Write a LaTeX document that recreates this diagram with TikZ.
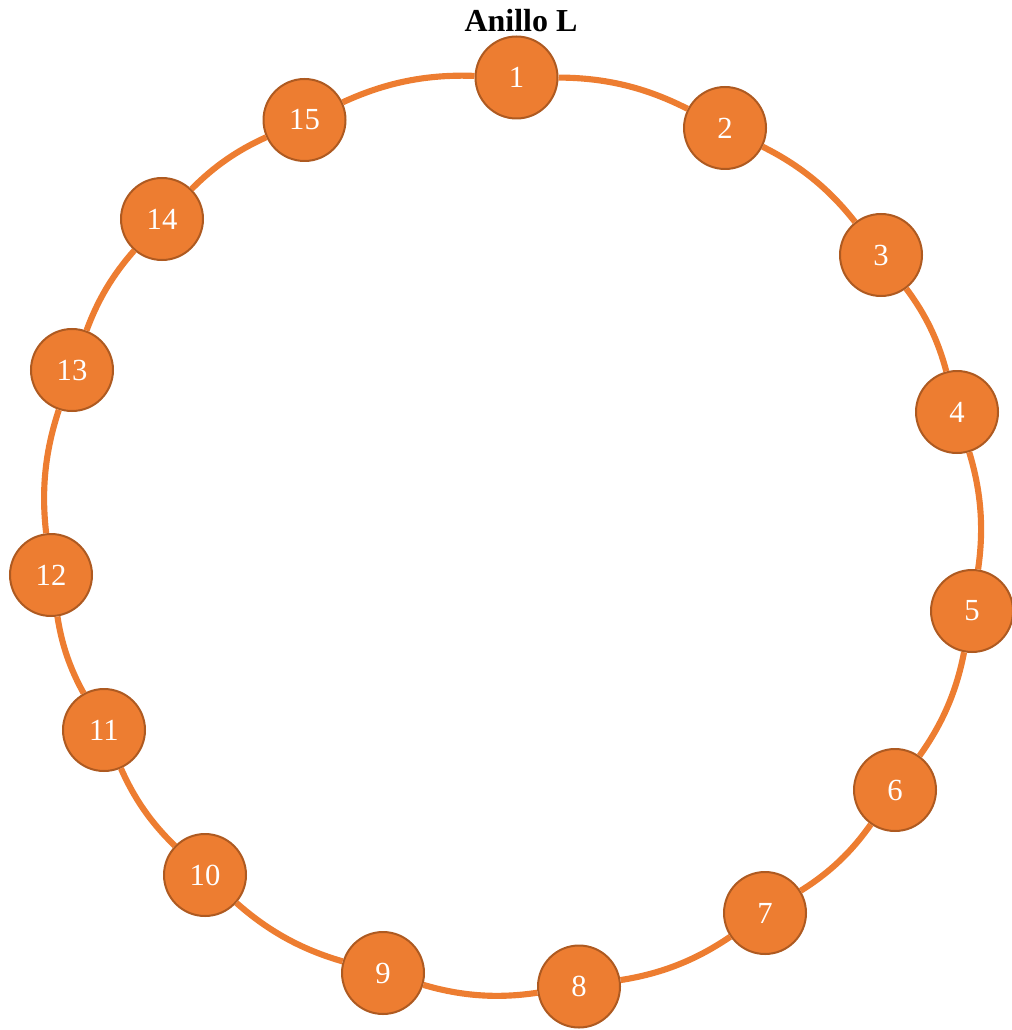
\documentclass[tikz,border=0pt]{standalone}
\usepackage{fontspec}
\setmainfont{Liberation Serif}
\definecolor{ringorange}{HTML}{ED7D31}
\definecolor{ringborder}{HTML}{AE5A21}
\begin{document}
\begin{tikzpicture}[x=0.75pt,y=-0.75pt,
  ringnode/.style={circle,fill=ringorange,draw=ringborder,line width=1.5pt,
    minimum size=61.5pt,inner sep=0pt,text=white,font=\fontsize{23}{23}\selectfont},
  ringedge/.style={draw=ringorange,line width=4.6pt,looseness=0.9},
  titlestyle/.style={font=\fontsize{24}{24}\selectfont\bfseries,text=black,inner sep=0pt}]
\useasboundingbox (0,0) rectangle (1012,1030);
\node[titlestyle] (title) at (521,21) {Anillo L};
\node[ringnode] (n1) at (516.5,77.5) {1};
\node[ringnode] (n2) at (725,128) {2};
\node[ringnode] (n3) at (881,255) {3};
\node[ringnode] (n4) at (957,412) {4};
\node[ringnode] (n5) at (972,611) {5};
\node[ringnode] (n6) at (895,790) {6};
\node[ringnode] (n7) at (765,913) {7};
\node[ringnode] (n8) at (579,986.5) {8};
\node[ringnode] (n9) at (383,973) {9};
\node[ringnode] (n10) at (205,875) {10};
\node[ringnode] (n11) at (104,730) {11};
\node[ringnode] (n12) at (51,575) {12};
\node[ringnode] (n13) at (72,370) {13};
\node[ringnode] (n14) at (162,219) {14};
\node[ringnode] (n15) at (304.5,120) {15};
\path[ringedge]
  (n1) to[bend left=13.5] (n2)
  (n2) to[bend left=12.7] (n3)
  (n3) to[bend left=11.05] (n4)
  (n4) to[bend left=12.6] (n5)
  (n5) to[bend left=12.35] (n6)
  (n6) to[bend left=11.45] (n7)
  (n7) to[bend left=12.75] (n8)
  (n8) to[bend left=12.45] (n9)
  (n9) to[bend left=12.75] (n10)
  (n10) to[bend left=11.05] (n11)
  (n11) to[bend left=10.1] (n12)
  (n12) to[bend left=12.45] (n13)
  (n13) to[bend left=10.6] (n14)
  (n14) to[bend left=10.55] (n15)
  (n15) to[bend left=13.5] (n1);
\end{tikzpicture}
\end{document}
